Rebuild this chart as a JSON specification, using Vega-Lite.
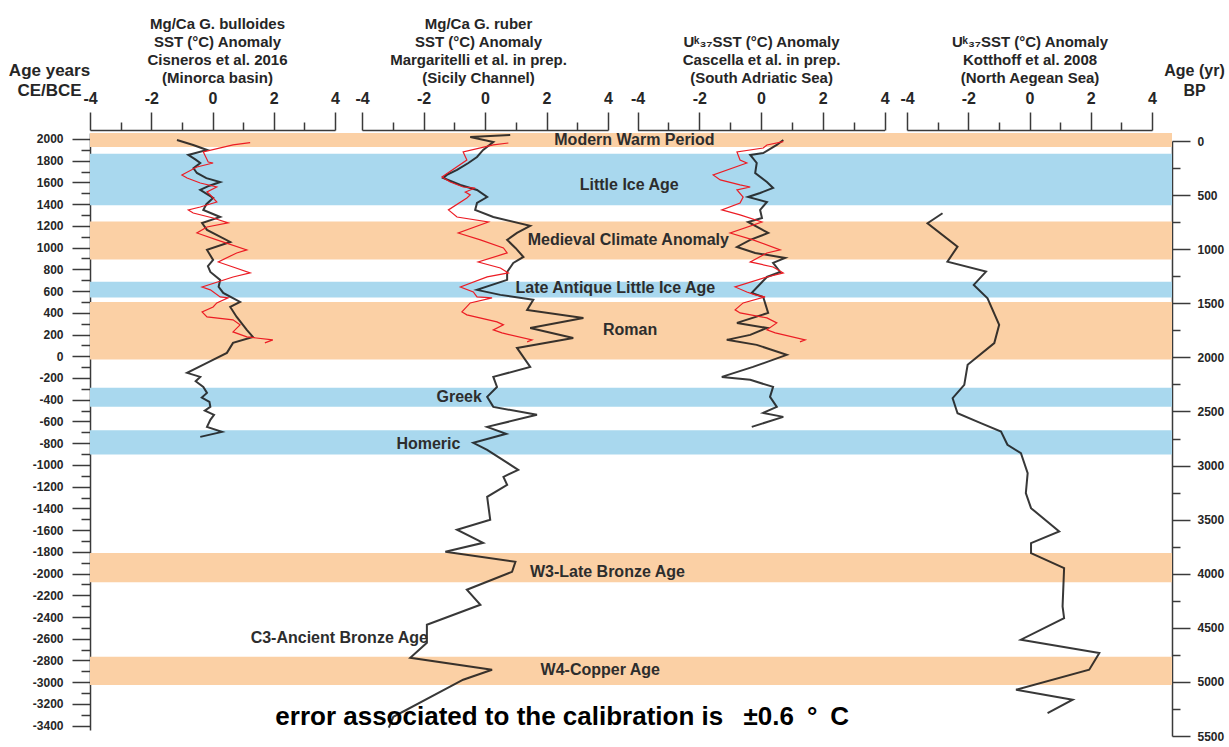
{
  "$schema": "https://vega.github.io/schema/vega-lite/v6.json",
  "autosize": {"type": "none"},
  "padding": {"left": 90, "top": 133, "right": 57, "bottom": 17},
  "width": 1082,
  "height": 597,
  "background": "white",
  "config": {
    "view": {"stroke": null},
    "font": "Liberation Sans",
    "axis": {
      "grid": false,
      "labelFont": "Liberation Sans",
      "titleFont": "Liberation Sans",
      "labelFontWeight": "bold",
      "titleFontWeight": "bold",
      "labelColor": "#262626",
      "titleColor": "#262626",
      "domainColor": "#3a3a3a",
      "tickColor": "#3a3a3a",
      "domainWidth": 1.5,
      "tickWidth": 1.5,
      "labelOverlap": false,
      "labelFlush": false,
      "labelBound": false
    }
  },
  "datasets": {
    "periods": [
      {"period": "Modern Warm Period", "start": 1925, "end": 2055, "kind": "warm"},
      {"period": "Little Ice Age", "start": 1390, "end": 1865, "kind": "cool"},
      {"period": "Medieval Climate Anomaly", "start": 890, "end": 1240, "kind": "warm"},
      {"period": "Late Antique Little Ice Age", "start": 540, "end": 685, "kind": "cool"},
      {"period": "Roman", "start": -30, "end": 500, "kind": "warm"},
      {"period": "Greek", "start": -465, "end": -290, "kind": "cool"},
      {"period": "Homeric", "start": -905, "end": -680, "kind": "cool"},
      {"period": "W3-Late Bronze Age", "start": -2080, "end": -1810, "kind": "warm"},
      {"period": "W4-Copper Age", "start": -3025, "end": -2765, "kind": "warm"}
    ],
    "periodLabels": [
      {"label": "Modern Warm Period", "sst": 4.86, "year": 1990},
      {"label": "Little Ice Age", "sst": 4.69, "year": 1577},
      {"label": "Medieval Climate Anomaly", "sst": 4.66, "year": 1071},
      {"label": "Late Antique Little Ice Age", "sst": 4.24, "year": 629},
      {"label": "Roman", "sst": 4.72, "year": 243},
      {"label": "Greek", "sst": -0.84, "year": -374},
      {"label": "Homeric", "sst": -1.84, "year": -806},
      {"label": "W3-Late Bronze Age", "sst": 3.98, "year": -1984},
      {"label": "C3-Ancient Bronze Age", "sst": -4.74, "year": -2591},
      {"label": "W4-Copper Age", "sst": 3.75, "year": -2885}
    ],
    "minorcaMgCa": [
      {"year": 1991, "sst": -1.16}, {"year": 1945, "sst": -0.63}, {"year": 1899, "sst": -0.18},
      {"year": 1853, "sst": -0.79}, {"year": 1810, "sst": -0.55}, {"year": 1779, "sst": -0.40},
      {"year": 1730, "sst": -0.62}, {"year": 1687, "sst": -0.51}, {"year": 1640, "sst": -0.2},
      {"year": 1604, "sst": 0.25}, {"year": 1570, "sst": -0.1}, {"year": 1531, "sst": -0.40},
      {"year": 1457, "sst": 0.02}, {"year": 1400, "sst": -0.2}, {"year": 1347, "sst": -0.30},
      {"year": 1282, "sst": 0.25}, {"year": 1227, "sst": -0.34}, {"year": 1163, "sst": -0.18},
      {"year": 1052, "sst": 0.58}, {"year": 979, "sst": -0.18}, {"year": 887, "sst": 0.02},
      {"year": 830, "sst": -0.15}, {"year": 776, "sst": -0.07}, {"year": 703, "sst": 0.25},
      {"year": 640, "sst": 0.2}, {"year": 583, "sst": 0.35}, {"year": 500, "sst": 0.90},
      {"year": 454, "sst": 0.58}, {"year": 362, "sst": 0.79}, {"year": 243, "sst": 1.12},
      {"year": 178, "sst": 1.32}, {"year": 123, "sst": 0.67}, {"year": 31, "sst": 0.47},
      {"year": -61, "sst": -0.18}, {"year": -153, "sst": -0.83}, {"year": -190, "sst": -0.40},
      {"year": -230, "sst": -0.55}, {"year": -282, "sst": -0.30}, {"year": -337, "sst": -0.18},
      {"year": -380, "sst": -0.35}, {"year": -420, "sst": -0.1}, {"year": -466, "sst": -0.07},
      {"year": -500, "sst": -0.25}, {"year": -540, "sst": 0.05}, {"year": -585, "sst": -0.07},
      {"year": -650, "sst": -0.18}, {"year": -696, "sst": 0.31}, {"year": -742, "sst": -0.40}
    ],
    "minorcaRecent": [
      {"year": 1966, "sst": 1.23}, {"year": 1945, "sst": 0.67}, {"year": 1880, "sst": -0.30},
      {"year": 1788, "sst": -0.14}, {"year": 1779, "sst": 0.02}, {"year": 1742, "sst": -0.51},
      {"year": 1669, "sst": -1.00}, {"year": 1641, "sst": -0.83}, {"year": 1595, "sst": -0.40},
      {"year": 1558, "sst": 0.14}, {"year": 1512, "sst": -0.18}, {"year": 1485, "sst": -0.07},
      {"year": 1420, "sst": 0.14}, {"year": 1374, "sst": -0.40}, {"year": 1347, "sst": -0.79},
      {"year": 1319, "sst": -0.63}, {"year": 1273, "sst": 0.02}, {"year": 1227, "sst": 0.51},
      {"year": 1190, "sst": -0.18}, {"year": 1135, "sst": -0.51}, {"year": 1071, "sst": 0.14},
      {"year": 979, "sst": 1.12}, {"year": 951, "sst": 0.79}, {"year": 868, "sst": 0.19},
      {"year": 822, "sst": 0.67}, {"year": 767, "sst": 1.23}, {"year": 730, "sst": 0.67},
      {"year": 638, "sst": -0.34}, {"year": 611, "sst": -0.07}, {"year": 546, "sst": 0.25},
      {"year": 537, "sst": 0.51}, {"year": 491, "sst": 0.14}, {"year": 454, "sst": 0.02},
      {"year": 408, "sst": -0.34}, {"year": 362, "sst": -0.18}, {"year": 335, "sst": 0.67},
      {"year": 289, "sst": 0.90}, {"year": 224, "sst": 0.67}, {"year": 178, "sst": 1.12},
      {"year": 151, "sst": 1.97}, {"year": 123, "sst": 1.71}
    ],
    "sicilyMgCa": [
      {"year": 2037, "sst": 0.82}, {"year": 2018, "sst": -0.48}, {"year": 1972, "sst": 0.27},
      {"year": 1899, "sst": -0.06}, {"year": 1834, "sst": -0.26}, {"year": 1779, "sst": -0.54},
      {"year": 1715, "sst": -0.91}, {"year": 1669, "sst": -1.24}, {"year": 1641, "sst": -1.36},
      {"year": 1577, "sst": -0.80}, {"year": 1531, "sst": -0.26}, {"year": 1466, "sst": 0.07},
      {"year": 1411, "sst": -0.26}, {"year": 1347, "sst": -0.32}, {"year": 1282, "sst": 0.27},
      {"year": 1200, "sst": 1.47}, {"year": 1135, "sst": 1.04}, {"year": 1071, "sst": 0.72},
      {"year": 997, "sst": 0.99}, {"year": 914, "sst": 1.25}, {"year": 859, "sst": 0.92},
      {"year": 776, "sst": 0.72}, {"year": 703, "sst": 0.72}, {"year": 611, "sst": -0.26},
      {"year": 565, "sst": 0.50}, {"year": 519, "sst": 1.57}, {"year": 427, "sst": 1.37},
      {"year": 353, "sst": 3.20}, {"year": 261, "sst": 1.47}, {"year": 169, "sst": 2.87},
      {"year": 77, "sst": 1.04}, {"year": -98, "sst": 1.47}, {"year": -190, "sst": 0.27},
      {"year": -282, "sst": 0.39}, {"year": -374, "sst": 0.07}, {"year": -466, "sst": 0.27},
      {"year": -539, "sst": 1.69}, {"year": -650, "sst": 0.07}, {"year": -714, "sst": 0.69},
      {"year": -797, "sst": -0.38}, {"year": -861, "sst": 0.07}, {"year": -1045, "sst": 1.08},
      {"year": -1110, "sst": 0.60}, {"year": -1183, "sst": 0.72}, {"year": -1294, "sst": 0.07},
      {"year": -1505, "sst": 0.17}, {"year": -1597, "sst": -0.91}, {"year": -1717, "sst": -0.06},
      {"year": -1800, "sst": -1.29}, {"year": -1892, "sst": 0.99}, {"year": -1984, "sst": 0.88},
      {"year": -2149, "sst": -0.59}, {"year": -2287, "sst": -0.15}, {"year": -2471, "sst": -1.89},
      {"year": -2637, "sst": -1.89}, {"year": -2775, "sst": -2.43}, {"year": -2885, "sst": 0.23},
      {"year": -2977, "sst": -0.71}, {"year": -3318, "sst": -2.98}, {"year": -3419, "sst": -3.13}
    ],
    "sicilyRecent": [
      {"year": 1963, "sst": 0.76}, {"year": 1945, "sst": 0.27}, {"year": 1880, "sst": -0.71},
      {"year": 1807, "sst": -0.59}, {"year": 1650, "sst": -1.40}, {"year": 1604, "sst": -1.13},
      {"year": 1558, "sst": -0.71}, {"year": 1549, "sst": -0.32}, {"year": 1512, "sst": -0.64},
      {"year": 1485, "sst": -0.48}, {"year": 1457, "sst": -0.59}, {"year": 1347, "sst": -1.19},
      {"year": 1282, "sst": -0.91}, {"year": 1236, "sst": 0.11}, {"year": 1135, "sst": -0.87},
      {"year": 1071, "sst": -0.15}, {"year": 997, "sst": 0.60}, {"year": 951, "sst": 0.72},
      {"year": 868, "sst": -0.22}, {"year": 813, "sst": 0.50}, {"year": 767, "sst": 0.76},
      {"year": 730, "sst": 0.07}, {"year": 638, "sst": -0.80}, {"year": 592, "sst": -0.38},
      {"year": 546, "sst": -0.26}, {"year": 537, "sst": 0.23}, {"year": 491, "sst": -0.48},
      {"year": 408, "sst": -0.75}, {"year": 381, "sst": -0.59}, {"year": 316, "sst": 0.39},
      {"year": 289, "sst": 0.60}, {"year": 243, "sst": 0.27}, {"year": 215, "sst": 0.55},
      {"year": 151, "sst": 1.53}, {"year": 132, "sst": 1.37}
    ],
    "adriaticUk37": [
      {"year": 1991, "sst": 0.72}, {"year": 1945, "sst": 0.51}, {"year": 1871, "sst": 0.07},
      {"year": 1853, "sst": -0.35}, {"year": 1779, "sst": -0.14}, {"year": 1687, "sst": -0.19},
      {"year": 1604, "sst": 0.19}, {"year": 1549, "sst": 0.39}, {"year": 1503, "sst": -0.03},
      {"year": 1466, "sst": -0.42}, {"year": 1420, "sst": 0.19}, {"year": 1347, "sst": -0.03},
      {"year": 1273, "sst": 0.03}, {"year": 1236, "sst": -0.42}, {"year": 1135, "sst": 0.23},
      {"year": 1071, "sst": -0.35}, {"year": 1006, "sst": -0.78}, {"year": 951, "sst": -0.19},
      {"year": 905, "sst": 0.78}, {"year": 859, "sst": 0.39}, {"year": 776, "sst": 0.62},
      {"year": 730, "sst": 0.19}, {"year": 583, "sst": -0.30}, {"year": 546, "sst": 0.07},
      {"year": 399, "sst": 0.23}, {"year": 307, "sst": -0.78}, {"year": 261, "sst": 0.19},
      {"year": 197, "sst": -0.35}, {"year": 151, "sst": -1.11}, {"year": 105, "sst": -0.14},
      {"year": 13, "sst": 0.83}, {"year": -98, "sst": -0.26}, {"year": -190, "sst": -1.27},
      {"year": -217, "sst": -0.35}, {"year": -282, "sst": 0.39}, {"year": -374, "sst": 0.29},
      {"year": -466, "sst": 0.51}, {"year": -521, "sst": 0.07}, {"year": -558, "sst": 0.72},
      {"year": -650, "sst": -0.30}
    ],
    "adriaticRecent": [
      {"year": 1975, "sst": 0.72}, {"year": 1945, "sst": 0.19}, {"year": 1917, "sst": 0.07},
      {"year": 1880, "sst": -0.78}, {"year": 1807, "sst": -0.68}, {"year": 1779, "sst": -0.46},
      {"year": 1669, "sst": -1.55}, {"year": 1623, "sst": -1.32}, {"year": 1577, "sst": -0.68},
      {"year": 1558, "sst": -0.35}, {"year": 1531, "sst": -0.78}, {"year": 1466, "sst": -0.58},
      {"year": 1411, "sst": -0.68}, {"year": 1347, "sst": -1.27}, {"year": 1301, "sst": -0.68},
      {"year": 1236, "sst": 0.03}, {"year": 1135, "sst": -1.00}, {"year": 1071, "sst": -0.26},
      {"year": 979, "sst": 0.62}, {"year": 951, "sst": 0.19}, {"year": 868, "sst": -0.35},
      {"year": 822, "sst": 0.39}, {"year": 767, "sst": 0.72}, {"year": 730, "sst": 0.19},
      {"year": 638, "sst": -0.84}, {"year": 592, "sst": -0.46}, {"year": 565, "sst": -0.19},
      {"year": 546, "sst": 0.13}, {"year": 491, "sst": -0.58}, {"year": 427, "sst": -0.84},
      {"year": 399, "sst": -0.68}, {"year": 353, "sst": 0.19}, {"year": 307, "sst": 0.51},
      {"year": 243, "sst": 0.19}, {"year": 215, "sst": 0.46}, {"year": 151, "sst": 1.43},
      {"year": 132, "sst": 1.26}
    ],
    "aegeanUk37": [
      {"year": 1316, "sst": -2.84}, {"year": 1224, "sst": -3.33}, {"year": 1009, "sst": -2.35},
      {"year": 871, "sst": -2.68}, {"year": 779, "sst": -1.42}, {"year": 657, "sst": -1.82},
      {"year": 534, "sst": -1.37}, {"year": 289, "sst": -0.99}, {"year": 121, "sst": -1.15},
      {"year": -79, "sst": -2.02}, {"year": -263, "sst": -2.13}, {"year": -386, "sst": -2.51},
      {"year": -524, "sst": -2.35}, {"year": -616, "sst": -1.59}, {"year": -693, "sst": -0.93},
      {"year": -815, "sst": -0.72}, {"year": -892, "sst": -0.28}, {"year": -1076, "sst": -0.06},
      {"year": -1260, "sst": -0.12}, {"year": -1398, "sst": 0.05}, {"year": -1613, "sst": 0.97},
      {"year": -1720, "sst": 0.05}, {"year": -1812, "sst": 0.05}, {"year": -1950, "sst": 1.13},
      {"year": -2303, "sst": 1.08}, {"year": -2410, "sst": 1.13}, {"year": -2609, "sst": -0.28},
      {"year": -2732, "sst": 2.28}, {"year": -2885, "sst": 1.95}, {"year": -3069, "sst": -0.44},
      {"year": -3161, "sst": 1.41}, {"year": -3284, "sst": 0.59}
    ]
  },
  "layer": [
    {
      "data": {"name": "periods"},
      "mark": {"type": "rect"},
      "encoding": {
        "y": {
          "field": "start",
          "type": "quantitative",
          "scale": {"domain": [-3440, 2055], "nice": false, "zero": false},
          "axis": {
            "orient": "left",
            "values": [-3400, -3300, -3200, -3100, -3000, -2900, -2800, -2700, -2600, -2500, -2400, -2300, -2200, -2100, -2000, -1900, -1800, -1700, -1600, -1500, -1400, -1300, -1200, -1100, -1000, -900, -800, -700, -600, -500, -400, -300, -200, -100, 0, 100, 200, 300, 400, 500, 600, 700, 800, 900, 1000, 1100, 1200, 1300, 1400, 1500, 1600, 1700, 1800, 1900, 2000],
            "tickSize": {"condition": {"test": "datum.value % 200 === 0", "value": 18}, "value": 9},
            "labelExpr": "datum.value % 200 === 0 ? '' + datum.value : ''",
            "labelFontSize": 12,
            "labelPadding": 9,
            "title": ["Age years", "CE/BCE"],
            "titleAngle": 0,
            "titleAlign": "center",
            "titleBaseline": "middle",
            "titleX": -41,
            "titleY": -63,
            "titleFontSize": 17,
            "titleLineHeight": 20
          }
        },
        "y2": {"field": "end"},
        "color": {
          "field": "kind",
          "type": "nominal",
          "scale": {"domain": ["warm", "cool"], "range": ["#FBD0A5", "#A9D8EE"]},
          "legend": null
        }
      }
    },
    {
      "encoding": {
        "x": {
          "field": "sst",
          "type": "quantitative",
          "scale": {"domain": [-4, 4], "range": [0, 245], "nice": false, "zero": false},
          "axis": {
            "orient": "top",
            "offset": 3,
            "values": [-4, -3, -2, -1, 0, 1, 2, 3, 4],
            "tickSize": {"condition": {"test": "datum.value % 2 === 0", "value": 18}, "value": 8},
            "labelExpr": "datum.value % 2 === 0 ? '' + datum.value : ''",
            "labelFontSize": 16,
            "labelPadding": 6,
            "title": ["Mg/Ca G. bulloides", "SST (°C) Anomaly", "Cisneros et al. 2016", "(Minorca basin)"],
            "titleX": 127,
            "titleFontSize": 15,
            "titleLineHeight": 18,
            "titlePadding": 5
          }
        },
        "y": {
          "field": "year",
          "type": "quantitative",
          "scale": {"domain": [-3440, 2055], "nice": false, "zero": false},
          "axis": null
        }
      },
      "layer": [
        {
          "data": {"name": "minorcaMgCa"},
          "mark": {"type": "line", "color": "#151515", "strokeWidth": 2, "opacity": 0.85},
          "encoding": {"order": {"field": "year", "type": "quantitative", "sort": "descending"}}
        },
        {
          "data": {"name": "minorcaRecent"},
          "mark": {"type": "line", "color": "#ec1c24", "strokeWidth": 1.2},
          "encoding": {"order": {"field": "year", "type": "quantitative", "sort": "descending"}}
        }
      ]
    },
    {
      "encoding": {
        "x": {
          "field": "sst",
          "type": "quantitative",
          "scale": {"domain": [-4, 4], "range": [272, 518], "nice": false, "zero": false},
          "axis": {
            "orient": "top",
            "offset": 3,
            "values": [-4, -3, -2, -1, 0, 1, 2, 3, 4],
            "tickSize": {"condition": {"test": "datum.value % 2 === 0", "value": 18}, "value": 8},
            "labelExpr": "datum.value % 2 === 0 ? '' + datum.value : ''",
            "labelFontSize": 16,
            "labelPadding": 6,
            "title": ["Mg/Ca G. ruber", "SST (°C) Anomaly", "Margaritelli et al. in prep.", "(Sicily Channel)"],
            "titleX": 388,
            "titleFontSize": 15,
            "titleLineHeight": 18,
            "titlePadding": 5
          }
        },
        "y": {
          "field": "year",
          "type": "quantitative",
          "scale": {"domain": [-3440, 2055], "nice": false, "zero": false},
          "axis": null
        }
      },
      "layer": [
        {
          "data": {"name": "sicilyMgCa"},
          "mark": {"type": "line", "color": "#151515", "strokeWidth": 2, "opacity": 0.85},
          "encoding": {"order": {"field": "year", "type": "quantitative", "sort": "descending"}}
        },
        {
          "data": {"name": "sicilyRecent"},
          "mark": {"type": "line", "color": "#ec1c24", "strokeWidth": 1.2},
          "encoding": {"order": {"field": "year", "type": "quantitative", "sort": "descending"}}
        },
        {
          "data": {"name": "periodLabels"},
          "mark": {"type": "text", "font": "Liberation Sans", "fontWeight": "bold", "fontSize": 16, "color": "#2d2d2d", "align": "center", "baseline": "middle"},
          "encoding": {"text": {"field": "label"}}
        },
        {
          "data": {"values": [{"label": "error associated to the calibration is \u2002±0.6\u2002°\u2002C", "sst": 2.51, "year": -3318}]},
          "mark": {"type": "text", "font": "Liberation Sans", "fontWeight": "bold", "fontSize": 26, "color": "#000000", "align": "center", "baseline": "middle"},
          "encoding": {"text": {"field": "label"}}
        }
      ]
    },
    {
      "encoding": {
        "x": {
          "field": "sst",
          "type": "quantitative",
          "scale": {"domain": [-4, 4], "range": [547.5, 794.6], "nice": false, "zero": false},
          "axis": {
            "orient": "top",
            "offset": 3,
            "values": [-4, -3, -2, -1, 0, 1, 2, 3, 4],
            "tickSize": {"condition": {"test": "datum.value % 2 === 0", "value": 18}, "value": 8},
            "labelExpr": "datum.value % 2 === 0 ? '' + datum.value : ''",
            "labelFontSize": 16,
            "labelPadding": 6,
            "title": ["Uᵏ₃₇SST (°C) Anomaly", "Cascella et al. in prep.", "(South Adriatic Sea)"],
            "titleFontSize": 15,
            "titleLineHeight": 18,
            "titlePadding": 5
          }
        },
        "y": {
          "field": "year",
          "type": "quantitative",
          "scale": {"domain": [-3440, 2055], "nice": false, "zero": false},
          "axis": null
        }
      },
      "layer": [
        {
          "data": {"name": "adriaticUk37"},
          "mark": {"type": "line", "color": "#151515", "strokeWidth": 2, "opacity": 0.85},
          "encoding": {"order": {"field": "year", "type": "quantitative", "sort": "descending"}}
        },
        {
          "data": {"name": "adriaticRecent"},
          "mark": {"type": "line", "color": "#ec1c24", "strokeWidth": 1.2},
          "encoding": {"order": {"field": "year", "type": "quantitative", "sort": "descending"}}
        }
      ]
    },
    {
      "encoding": {
        "x": {
          "field": "sst",
          "type": "quantitative",
          "scale": {"domain": [-4, 4], "range": [817, 1062], "nice": false, "zero": false},
          "axis": {
            "orient": "top",
            "offset": 3,
            "values": [-4, -3, -2, -1, 0, 1, 2, 3, 4],
            "tickSize": {"condition": {"test": "datum.value % 2 === 0", "value": 18}, "value": 8},
            "labelExpr": "datum.value % 2 === 0 ? '' + datum.value : ''",
            "labelFontSize": 16,
            "labelPadding": 6,
            "title": ["Uᵏ₃₇SST (°C) Anomaly", "Kotthoff et al. 2008", "(North Aegean Sea)"],
            "titleFontSize": 15,
            "titleLineHeight": 18,
            "titlePadding": 5
          }
        },
        "y": {
          "field": "year",
          "type": "quantitative",
          "scale": {"domain": [-3440, 2055], "nice": false, "zero": false},
          "axis": null
        }
      },
      "layer": [
        {
          "data": {"name": "aegeanUk37"},
          "mark": {"type": "line", "color": "#151515", "strokeWidth": 2, "opacity": 0.85},
          "encoding": {"order": {"field": "year", "type": "quantitative", "sort": "descending"}}
        }
      ]
    },
    {
      "data": {"values": [{"bp": 0}, {"bp": 5500}]},
      "mark": {"type": "point", "opacity": 0},
      "encoding": {
        "y": {
          "field": "bp",
          "type": "quantitative",
          "scale": {"domain": [0, 5500], "range": [8, 603], "nice": false, "zero": false},
          "axis": {
            "orient": "right",
            "values": [0, 250, 500, 750, 1000, 1250, 1500, 1750, 2000, 2250, 2500, 2750, 3000, 3250, 3500, 3750, 4000, 4250, 4500, 4750, 5000, 5250, 5500],
            "tickSize": {"condition": {"test": "datum.value % 500 === 0", "value": 18}, "value": 8},
            "labelExpr": "datum.value % 500 === 0 ? '' + datum.value : ''",
            "labelFontSize": 12,
            "labelPadding": 7,
            "title": ["Age (yr)", "BP"],
            "titleAngle": 0,
            "titleAlign": "center",
            "titleBaseline": "middle",
            "titleX": 22,
            "titleY": -63,
            "titleFontSize": 16,
            "titleLineHeight": 20
          }
        }
      }
    }
  ],
  "resolve": {"scale": {"x": "independent", "y": "independent"}}
}
